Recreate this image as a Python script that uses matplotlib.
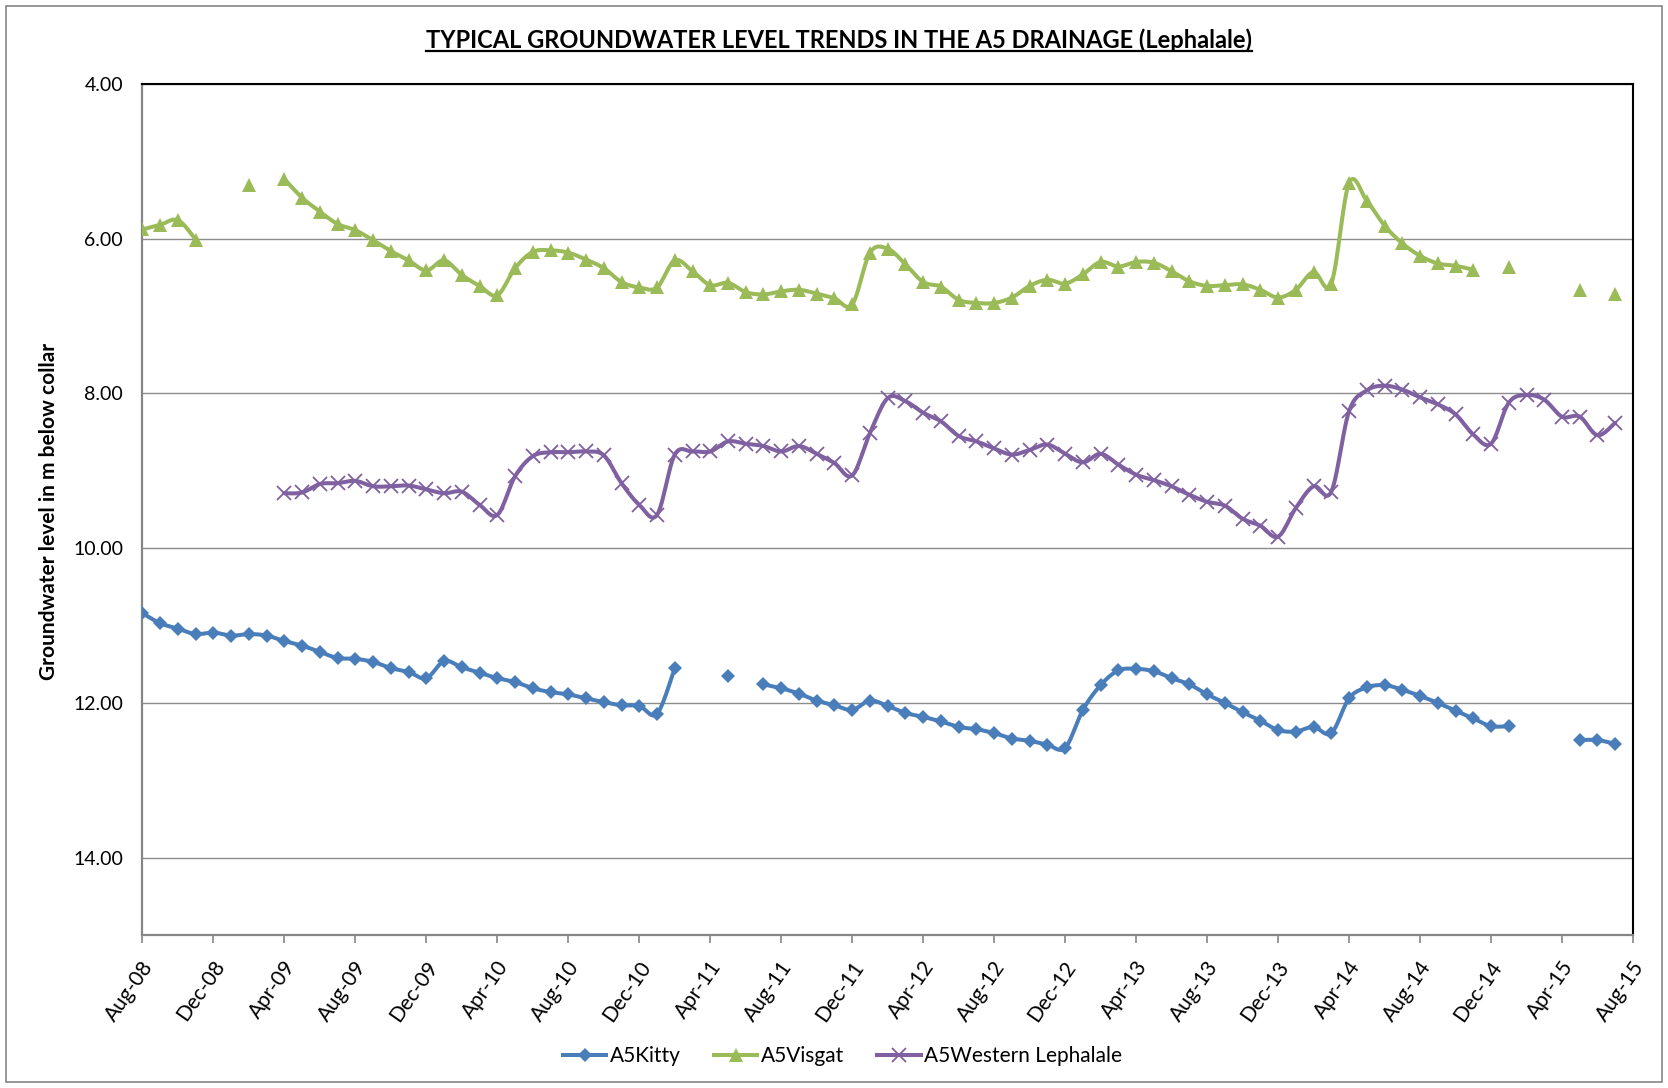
import numpy as np
import pandas as pd
import matplotlib
matplotlib.use('Agg')
import matplotlib.pyplot as plt
from matplotlib.lines import Line2D
from matplotlib.patches import Rectangle
from matplotlib.transforms import ScaledTranslation

# ── data (groundwater level, m below collar, monthly Aug-08 .. Aug-15) ────────
nan = np.nan
MONTHS = pd.date_range('2008-08-01', '2015-08-01', freq='MS')

KITTY = [10.84, 10.97, 11.04, 11.11, 11.09, 11.13, 11.11, 11.13, 11.20, 11.26,
         11.34, 11.42, 11.43, 11.47, 11.55, 11.60, 11.68, 11.46, 11.54, 11.61,
         11.68, 11.73, 11.81, 11.86, 11.89, 11.94, 11.99, 12.03, 12.04, 12.14,
         11.55, nan, nan, 11.65, nan, 11.76, 11.81, 11.88, 11.97, 12.03,
         12.09, 11.97, 12.04, 12.13, 12.18, 12.24, 12.31, 12.34, 12.39, 12.46,
         12.49, 12.54, 12.58, 12.09, 11.77, 11.58, 11.56, 11.59, 11.68, 11.76,
         11.89, 12.00, 12.12, 12.23, 12.35, 12.37, 12.31, 12.39, 11.94, 11.80,
         11.77, 11.83, 11.91, 12.00, 12.10, 12.20, 12.30, 12.30, nan, nan,
         nan, 12.48, 12.48, 12.53, nan]

VISGAT = [5.88, 5.82, 5.76, 6.01, nan, nan, 5.30, nan, 5.23, 5.47,
          5.65, 5.81, 5.89, 6.02, 6.16, 6.28, 6.41, 6.28, 6.47, 6.61,
          6.73, 6.38, 6.17, 6.15, 6.18, 6.27, 6.38, 6.56, 6.63, 6.63,
          6.28, 6.42, 6.60, 6.57, 6.69, 6.72, 6.68, 6.66, 6.71, 6.77,
          6.85, 6.18, 6.13, 6.33, 6.56, 6.62, 6.79, 6.83, 6.83, 6.76,
          6.61, 6.53, 6.58, 6.46, 6.30, 6.36, 6.30, 6.31, 6.42, 6.55,
          6.61, 6.60, 6.59, 6.66, 6.76, 6.66, 6.43, 6.58, 5.28, 5.51,
          5.83, 6.06, 6.22, 6.32, 6.35, 6.40, nan, 6.36, nan, nan,
          nan, 6.66, nan, 6.72, nan]

WESTERN = [nan, nan, nan, nan, nan, nan, nan, nan, 9.29, 9.28,
           9.17, 9.16, 9.13, 9.20, 9.20, 9.19, 9.24, 9.29, 9.27, 9.44,
           9.57, 9.07, 8.81, 8.76, 8.76, 8.75, 8.80, 9.16, 9.44, 9.57,
           8.79, 8.75, 8.75, 8.62, 8.65, 8.68, 8.75, 8.68, 8.78, 8.90,
           9.06, 8.51, 8.06, 8.10, 8.25, 8.36, 8.55, 8.62, 8.71, 8.79,
           8.73, 8.66, 8.78, 8.89, 8.78, 8.92, 9.05, 9.12, 9.20, 9.31,
           9.40, 9.45, 9.62, 9.71, 9.85, 9.48, 9.20, 9.27, 8.23, 7.96,
           7.90, 7.95, 8.05, 8.14, 8.27, 8.53, 8.65, 8.12, 8.02, 8.08,
           8.30, 8.30, 8.54, 8.38, nan]

SERIES = ['A5Kitty', 'A5Visgat', 'A5Western Lephalale']
COLORS = ['#4A7EBB', '#9BBB59', '#7F60A1']
MARKERS = ['D', '^', 'x']
MSIZE = {'D': 7.5, '^': 10, 'x': 10}
YTICKS = [4, 6, 8, 10, 12, 14]

FONT = 'Lato'
plt.rcParams['font.family'] = [FONT, 'DejaVu Sans']


def smooth(x, y, n=14):
    # excel-style smoothed line: cubic bezier with 1/6 control offsets
    if len(x) < 2:
        return np.array(x), np.array(y)
    pts = np.column_stack([x, y]).astype(float)
    out = [pts[:1]]
    for i in range(len(pts) - 1):
        p0 = pts[max(i - 1, 0)]; p1 = pts[i]; p2 = pts[i + 1]; p3 = pts[min(i + 2, len(pts) - 1)]
        c1 = p1 + (p2 - p0) / 6.0
        c2 = p2 - (p3 - p1) / 6.0
        t = np.linspace(0, 1, n)[1:, None]
        b = (1 - t)**3 * p1 + 3 * (1 - t)**2 * t * c1 + 3 * (1 - t) * t**2 * c2 + t**3 * p2
        out.append(b)
    a = np.vstack(out)
    return a[:, 0], a[:, 1]


fig = plt.figure(figsize=(16.68, 10.88), dpi=100, facecolor='white')
ax = fig.add_axes([0.0854, 0.1406, 0.979 - 0.0854, 0.9228 - 0.1406])

x = np.arange(len(MONTHS))
for name, vals, col, mk in zip(SERIES, [KITTY, VISGAT, WESTERN], COLORS, MARKERS):
    v = np.array(vals, dtype=float)
    ok = ~np.isnan(v)
    # split into contiguous runs
    idx = np.where(ok)[0]
    runs = np.split(idx, np.where(np.diff(idx) != 1)[0] + 1)
    for r in runs:
        if len(r) > 1:
            sx, sy = smooth(x[r], v[r])
            ax.plot(sx, sy, color=col, lw=2.9, solid_capstyle='round', zorder=3)
    ax.plot(x[ok], v[ok], ls='none', marker=mk, ms=MSIZE[mk],
            mew=(1.3 if mk == 'x' else 0), color=col, zorder=4)

ax.set_xlim(0, len(MONTHS) - 1)
ax.set_ylim(15, 4)
ax.set_yticks(YTICKS)
ax.set_yticklabels([f'{t:.2f}' for t in YTICKS], fontsize=14)
ax.yaxis.grid(True, color='#8C8C8C', lw=1.0)
ax.set_axisbelow(True)

xt = x[::4]
ax.set_xticks(xt)
ax.set_xticklabels([MONTHS[i].strftime('%b-%y') for i in xt], rotation=55,
                   ha='right', va='center', rotation_mode='anchor', fontsize=15)
ax.tick_params(axis='x', length=6, width=1.2, color='#868686', direction='out', pad=14)
ax.tick_params(axis='y', length=0, pad=14)
shift = ScaledTranslation(5 / 72, 0, fig.dpi_scale_trans)
for lab in ax.get_xticklabels():
    lab.set_transform(lab.get_transform() + shift)

for s in ['left', 'bottom']:
    ax.spines[s].set_color('#868686')
    ax.spines[s].set_linewidth(1.6)
for s in ['top', 'right']:
    ax.spines[s].set_color('black')
    ax.spines[s].set_linewidth(1.5)

fig.text(0.0294, 0.530, 'Groundwater level in m below collar', rotation=90,
         ha='center', va='center', fontsize=15, fontweight='bold')

title = fig.text(0.503, 0.963, 'TYPICAL GROUNDWATER LEVEL TRENDS IN THE A5 DRAINAGE (Lephalale)',
                 ha='center', va='center', fontsize=17, fontweight='bold')
fig.canvas.draw()
bb = title.get_window_extent(fig.canvas.get_renderer()).transformed(fig.transFigure.inverted())
fig.add_artist(Line2D([bb.x0, bb.x1], [bb.y0 + 0.001, bb.y0 + 0.001], color='black', lw=1.6,
                      transform=fig.transFigure))

handles = [Line2D([0], [0], color=c, lw=2.9, marker=m, ms=MSIZE[m],
                  mew=(1.3 if m == 'x' else 0)) for c, m in zip(COLORS, MARKERS)]
fig.legend(handles, SERIES, loc='center', bbox_to_anchor=(0.505, 0.029), ncol=3, frameon=False,
           fontsize=15, handlelength=2.1, handletextpad=0.15, columnspacing=1.6)

fig.add_artist(Rectangle((0.0036, 0.0055), 0.9928, 0.989, transform=fig.transFigure,
                         fill=False, edgecolor='#868686', lw=1.2))

fig.savefig('out.png', dpi=100, facecolor='white')
